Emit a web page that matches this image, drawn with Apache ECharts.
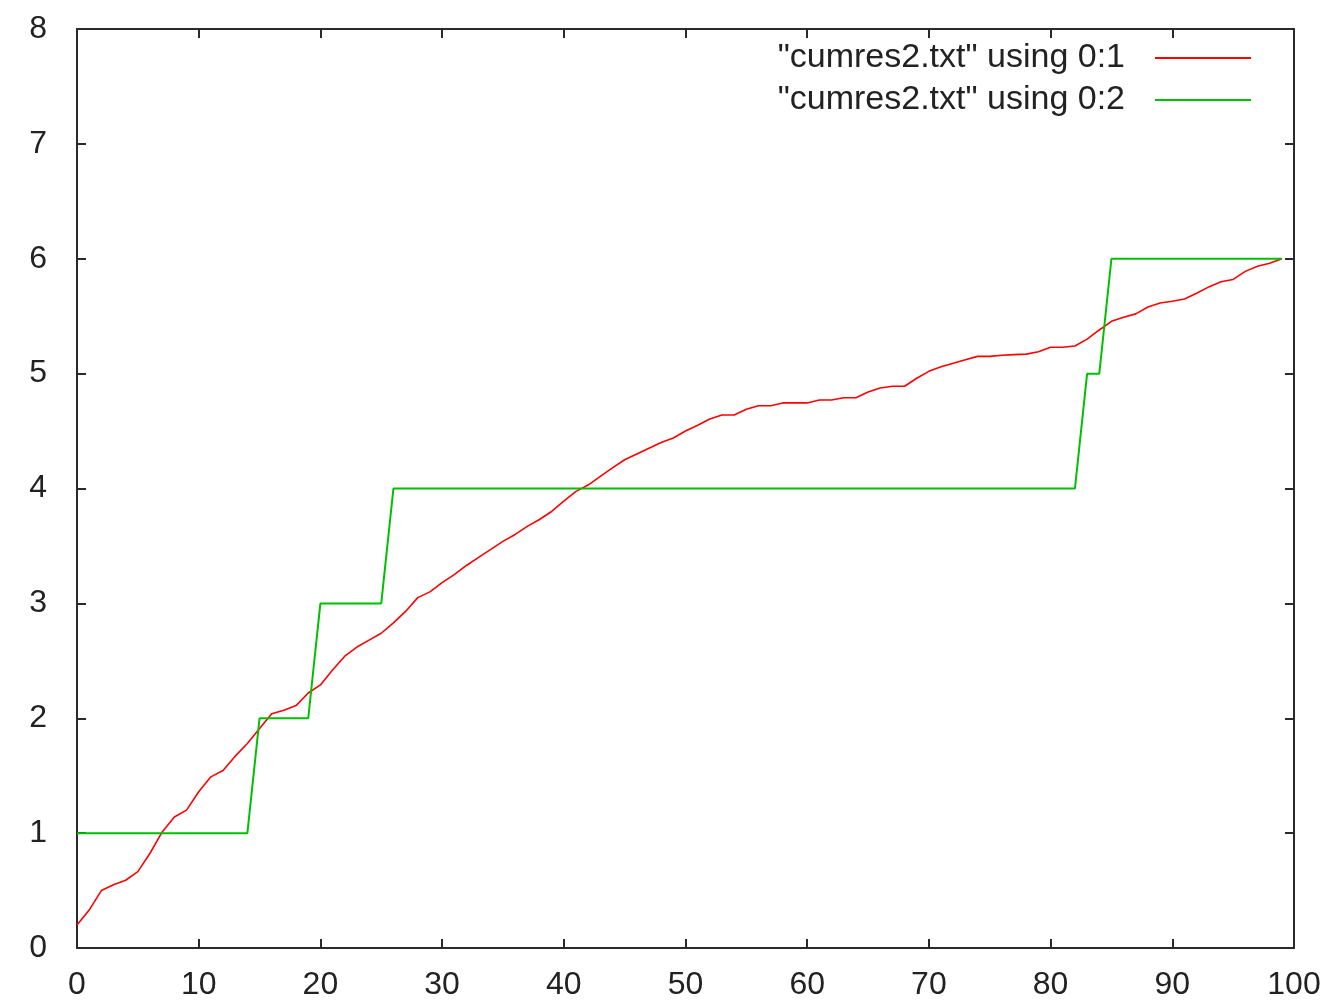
<!DOCTYPE html>
<html>
<head>
<meta charset="utf-8">
<script src="https://cdn.jsdelivr.net/npm/echarts@6/dist/echarts.min.js"></script>
<style>
html,body{margin:0;padding:0;background:#fff;}
#chart{width:1342px;height:1002px;}
</style>
</head>
<body>
<div id="chart"></div>
<script>
const seriesNames = ['"cumres2.txt" using 0:1', '"cumres2.txt" using 0:2'];
const xTicks = [0, 10, 20, 30, 40, 50, 60, 70, 80, 90, 100];
const yTicks = [0, 1, 2, 3, 4, 5, 6, 7, 8];

const col1 = [
  0.20, 0.33, 0.50, 0.55, 0.59, 0.665, 0.825, 1.01, 1.14, 1.20,
  1.36, 1.49, 1.545, 1.67, 1.78, 1.91, 2.04, 2.07, 2.11, 2.22,
  2.29, 2.42, 2.54, 2.62, 2.68, 2.74, 2.83, 2.93, 3.05, 3.10,
  3.18, 3.25, 3.33, 3.40, 3.47, 3.54, 3.60, 3.67, 3.73, 3.80,
  3.89, 3.975, 4.03, 4.105, 4.18, 4.25, 4.30, 4.35, 4.40, 4.44,
  4.50, 4.55, 4.605, 4.64, 4.64, 4.69, 4.72, 4.72, 4.745, 4.745,
  4.745, 4.77, 4.77, 4.79, 4.79, 4.84, 4.875, 4.89, 4.89, 4.96,
  5.02, 5.06, 5.09, 5.12, 5.15, 5.15, 5.16, 5.165, 5.17, 5.19,
  5.23, 5.23, 5.24, 5.30, 5.38, 5.455, 5.49, 5.52, 5.58, 5.615,
  5.63, 5.65, 5.70, 5.755, 5.80, 5.82, 5.89, 5.935, 5.96, 6.00
];

const col2 = [
  1, 1, 1, 1, 1, 1, 1, 1, 1, 1,
  1, 1, 1, 1, 1, 2, 2, 2, 2, 2,
  3, 3, 3, 3, 3, 3, 4, 4, 4, 4,
  4, 4, 4, 4, 4, 4, 4, 4, 4, 4,
  4, 4, 4, 4, 4, 4, 4, 4, 4, 4,
  4, 4, 4, 4, 4, 4, 4, 4, 4, 4,
  4, 4, 4, 4, 4, 4, 4, 4, 4, 4,
  4, 4, 4, 4, 4, 4, 4, 4, 4, 4,
  4, 4, 4, 5, 5, 6, 6, 6, 6, 6,
  6, 6, 6, 6, 6, 6, 6, 6, 6, 6
];

const chart = echarts.init(document.getElementById('chart'), null, {renderer: 'canvas'});
const FONT = 'Liberation Sans';
const AXC = '#2a2a2a';
const TXT = '#222';

const xMin = xTicks[0], xMax = xTicks[xTicks.length - 1];
const yMin = yTicks[0], yMax = yTicks[yTicks.length - 1];

function xAxisDef(pos, showLabel) {
  return {
    type: 'value', position: pos, min: xMin, max: xMax, interval: 10,
    axisLine: {show: true, onZero: false, lineStyle: {color: AXC, width: 2}},
    axisTick: {show: true, inside: true, length: 9, lineStyle: {color: AXC, width: 2}},
    splitLine: {show: false},
    axisLabel: {show: showLabel, fontFamily: FONT, fontSize: 32, color: TXT, margin: 21}
  };
}
function yAxisDef(pos, showLabel) {
  return {
    type: 'value', position: pos, min: yMin, max: yMax, interval: 1,
    axisLine: {show: true, onZero: false, lineStyle: {color: AXC, width: 2}},
    axisTick: {show: true, inside: true, length: 9, lineStyle: {color: AXC, width: 2}},
    splitLine: {show: false},
    axisLabel: {show: showLabel, fontFamily: FONT, fontSize: 32, color: TXT, margin: 30,
      padding: [0, 0, 19, 0]}
  };
}

chart.setOption({
  animation: false,
  backgroundColor: '#ffffff',
  grid: {left: 77, right: 48, top: 29, bottom: 54, containLabel: false},
  xAxis: [xAxisDef('bottom', true), xAxisDef('top', false)],
  yAxis: [yAxisDef('left', true), yAxisDef('right', false)],
  legend: {
    orient: 'vertical', right: 86, top: 36, align: 'right',
    itemWidth: 96, itemHeight: 2, itemGap: 8, icon: 'rect',
    textStyle: {fontFamily: FONT, fontSize: 34, color: TXT, lineHeight: 34, padding: [0, 25, 0, 0]},
    data: seriesNames
  },
  series: [
    {
      name: seriesNames[0], type: 'line', xAxisIndex: 0, yAxisIndex: 0,
      showSymbol: false, symbol: 'none',
      lineStyle: {color: '#ff0000', width: 1.6}, itemStyle: {color: '#ff0000'},
      data: col1.map((v, i) => [i, v])
    },
    {
      name: seriesNames[1], type: 'line', xAxisIndex: 0, yAxisIndex: 0,
      showSymbol: false, symbol: 'none',
      lineStyle: {color: '#00c000', width: 2}, itemStyle: {color: '#00c000'},
      data: col2.map((v, i) => [i, v])
    }
  ]
});
</script>
</body>
</html>
